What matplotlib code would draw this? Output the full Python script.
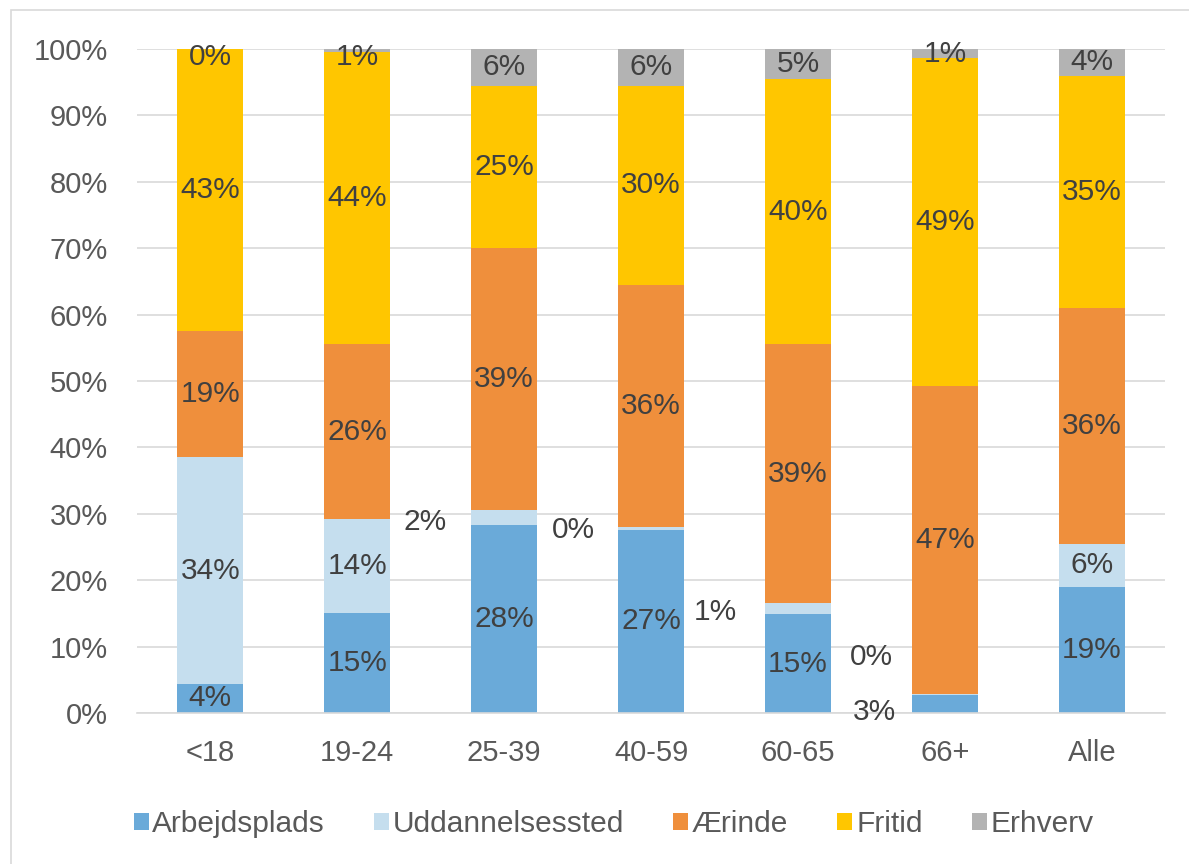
import numpy as np
import matplotlib.pyplot as plt
from matplotlib.patches import Rectangle

plt.rcParams['font.family'] = ['Liberation Sans', 'DejaVu Sans']

categories = ["<18", "19-24", "25-39", "40-59", "60-65", "66+", "Alle"]
series_names = ["Arbejdsplads", "Uddannelsessted", "Ærinde", "Fritid", "Erhverv"]

arbejdsplads = [4.4, 15.0, 28.3, 27.6, 14.9, 2.7, 19.0]
uddannelse = [34.1, 14.2, 2.2, 0.4, 1.6, 0.2, 6.5]
aerinde = [19.0, 26.3, 39.5, 36.5, 39.0, 46.4, 35.5]
fritid = [42.5, 44.0, 24.5, 30.0, 40.0, 49.3, 35.0]
erhverv = [0.0, 0.5, 5.5, 5.5, 4.5, 1.4, 4.0]

labels = {
    "Arbejdsplads": ["4%", "15%", "28%", "27%", "15%", "3%", "19%"],
    "Uddannelsessted": ["34%", "14%", "2%", "0%", "1%", "0%", "6%"],
    "Ærinde": ["19%", "26%", "39%", "36%", "39%", "47%", "36%"],
    "Fritid": ["43%", "44%", "25%", "30%", "40%", "49%", "35%"],
    "Erhverv": ["0%", "1%", "6%", "6%", "5%", "1%", "4%"],
}

colors = ["#6AAAD9", "#C5DEEE", "#EF8F3C", "#FFC600", "#B3B3B3"]

# labels Excel moved off their tiny segments (series, category) -> (x, y)
moved = {
    ("Uddannelsessted", 2): (1.46, 28.8),
    ("Uddannelsessted", 3): (2.47, 27.6),
    ("Uddannelsessted", 4): (3.44, 15.2),
    ("Uddannelsessted", 5): (4.50, 8.4),
    ("Arbejdsplads", 5): (4.52, 0.2),
    ("Erhverv", 0): (0, 98.8),
    ("Erhverv", 1): (1, 98.8),
}

fig = plt.figure(figsize=(11.89, 8.64), dpi=100)
ax = fig.add_axes([0.1152, 0.1748, 0.8648, 0.7685])

x = np.arange(len(categories))
data = [arbejdsplads, uddannelse, aerinde, fritid, erhverv]
bottom = np.zeros(len(categories))
for name, vals, col in zip(series_names, data, colors):
    vals = np.array(vals)
    ax.bar(x, vals, 0.45, bottom=bottom, color=col, label=name, zorder=2)
    for i in range(len(categories)):
        if (name, i) in moved:
            tx, ty = moved[(name, i)]
        else:
            tx, ty = x[i], bottom[i] + vals[i] / 2
        ax.text(tx, ty, labels[name][i], ha='center', va='center',
                fontsize=21.5, color='#404040', zorder=3)
    bottom += vals

ax.set_xlim(-0.5, len(categories) - 0.5)
ax.set_ylim(0, 100)
ax.set_yticks(np.arange(0, 101, 10))
ax.set_yticklabels([f"{v}%" for v in range(0, 101, 10)])
ax.set_xticks(x)
ax.set_xticklabels(categories)
ax.tick_params(length=0, labelsize=21, labelcolor='#595959')
ax.tick_params(axis='y', pad=21)
ax.tick_params(axis='x', pad=19)
ax.yaxis.grid(True, color='#D9D9D9', linewidth=1.2, zorder=0)
ax.set_axisbelow(True)
for s in ['top', 'right', 'left']:
    ax.spines[s].set_visible(False)
ax.spines['bottom'].set_color('#D9D9D9')
ax.spines['bottom'].set_linewidth(1.2)

fig.legend(loc='center', bbox_to_anchor=(0.516, 0.046), ncol=5, frameon=False,
           fontsize=21.5, labelcolor='#595959', handlelength=0.5, handleheight=0.5,
           handletextpad=0.12, columnspacing=1.65)

fig.patches.append(Rectangle((11 / 1189, -0.1), 1.2, 1.1 - 10 / 864,
                             transform=fig.transFigure, fill=False,
                             edgecolor='#D9D9D9', linewidth=1.2))

fig.savefig("out.png", dpi=100)
